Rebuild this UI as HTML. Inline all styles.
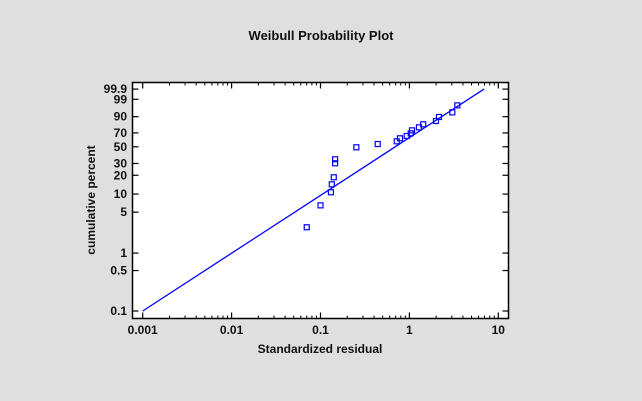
<!DOCTYPE html>
<html><head><meta charset="utf-8"><style>
html,body{margin:0;padding:0;background:#dfdfdf;}
svg{display:block;font-family:"Liberation Sans",Arial,sans-serif;}
</style></head><body>
<svg width="642" height="401" viewBox="0 0 642 401">
<rect width="642" height="401" fill="#dfdfdf"/>
<text x="321" y="40" text-anchor="middle" font-size="13" font-weight="bold" fill="#111">Weibull Probability Plot</text>
<rect x="132.5" y="82.5" width="376" height="236" fill="#fff" stroke="#000" stroke-width="1.5"/>
<g id="ticks"></g>
<g id="line"></g>
<g id="pts"></g>
<text x="320" y="353" text-anchor="middle" font-size="12" font-weight="bold" fill="#111">Standardized residual</text>
<text transform="translate(95,200) rotate(-90)" text-anchor="middle" font-size="12" font-weight="bold" fill="#111">cumulative percent</text>
</svg>
<script>
const xValues=[0.070,0.100,0.131,0.134,0.141,0.146,0.146,0.253,0.440,0.72,0.783,0.933,1.035,1.07,1.28,1.43,1.99,2.15,3.04,3.46];
const yPercents=[2.77,6.5,10.7,14.4,18.6,30.2,34.4,49.3,53.9,57.8,62.2,65.6,69.5,73.7,77.8,81.7,85.6,89.7,93.5,97.3];
const xTickValues=[0.001,0.01,0.1,1,10];
const xTickLabels=["0.001","0.01","0.1","1","10"];
const yTickValues=[0.1,0.5,1,5,10,20,30,50,70,90,99,99.9];
const yTickLabels=["0.1","0.5","1","5","10","20","30","50","70","90","99","99.9"];
const fitLine=[0.001,6.95];

const NS="http://www.w3.org/2000/svg";
const L=132.5,R=508.5,T=82.5,B=318.5;
function xs(v){return 142.7+88.9*(Math.log10(v)+3);}
function wt(p){return Math.log10(-Math.log(1-p/100));}
function ys(p){return 311-57.8*(wt(p)+3);}
function mk(tag,attrs,parent){const e=document.createElementNS(NS,tag);for(const k in attrs)e.setAttribute(k,attrs[k]);parent.appendChild(e);return e;}
const tg=document.getElementById('ticks');
xTickValues.forEach((v,i)=>{
  const x=xs(v);
  const t=mk('line',{x1:x,x2:x,y1:B,y2:B-6,stroke:'#000','stroke-width':1.2},tg);
  
  
  const t2=mk('line',{x1:x,x2:x,y1:T,y2:T+6,stroke:'#000','stroke-width':1.2},tg);
  
  
  const lb=mk('text',{x:x,y:334,'text-anchor':'middle','font-size':12,'font-weight':'bold',fill:'#111'},tg);
  lb.textContent=xTickLabels[i];
  
  
  if(i<xTickValues.length-1){for(let m=2;m<=9;m++){const mx=xs(v*m);
    const a=mk('line',{x1:mx,x2:mx,y1:B,y2:B-3,stroke:'#000'},tg);
    
    
    const b=mk('line',{x1:mx,x2:mx,y1:T,y2:T+3,stroke:'#000'},tg);
    
    }}
});
yTickValues.forEach((v,i)=>{
  const y=ys(v);
  const a=mk('line',{x1:L,x2:L+6,y1:y,y2:y,stroke:'#000','stroke-width':1.2},tg);
  
  
  const b=mk('line',{x1:R,x2:R-6,y1:y,y2:y,stroke:'#000','stroke-width':1.2},tg);
  
  
  const lb=mk('text',{x:127,y:y+4,'text-anchor':'end','font-size':12,'font-weight':'bold',fill:'#111'},tg);
  lb.textContent=yTickLabels[i];
  
  
});
const lg=document.getElementById('line');
const fl=mk('line',{x1:xs(fitLine[0]),y1:311-57.8*(Math.log10(fitLine[0])+3),x2:xs(fitLine[1]),y2:311-57.8*(Math.log10(fitLine[1])+3),stroke:'#0000ff','stroke-width':1.3},lg);


const pg=document.getElementById('pts');
xValues.forEach((v,i)=>{
  const r=mk('rect',{x:xs(v)-2.5,y:ys(yPercents[i])-2.5,width:5,height:5,fill:'none',stroke:'#0000ff','stroke-width':1.2},pg);
  
  
});
</script>
</body></html>
